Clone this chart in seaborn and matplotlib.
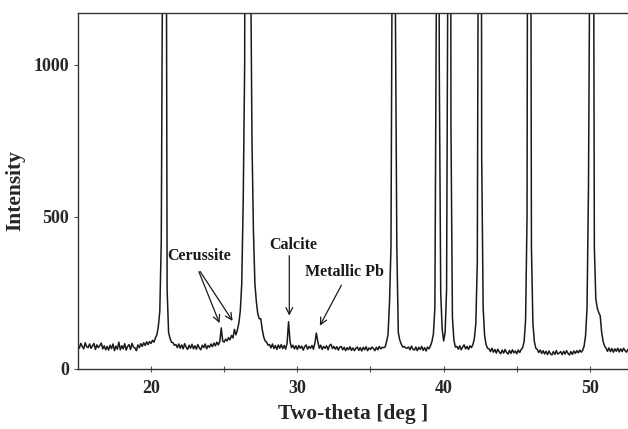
import numpy as np
import pandas as pd
import matplotlib
matplotlib.use("Agg")
import matplotlib.pyplot as plt
import seaborn as sns

# scan grid: 15.0 .. 52.6 deg, 0.1 deg step
two_theta = np.round(np.linspace(15.0, 52.6, 377), 1)

# intensity, one row per degree (x.0 .. x.9)
intensity = [
    80, 68, 84, 74, 66, 86, 73, 70, 82, 68,          # 15
    76, 84, 64, 79, 70, 77, 85, 66, 76, 63,          # 16
    74, 62, 78, 67, 82, 60, 75, 65, 88, 63,          # 17
    76, 66, 83, 62, 74, 80, 64, 84, 72, 69,          # 18
    60, 79, 70, 83, 74, 86, 77, 89, 80, 90,          # 19
    84, 94, 88, 102, 112, 140, 190, 420, 1500, 4000, # 20
    2500, 260, 120, 100, 88, 86, 78, 80, 70, 82,     # 21
    68, 79, 66, 83, 71, 64, 78, 68, 81, 66,          # 22
    76, 65, 80, 69, 63, 78, 70, 82, 66, 77,          # 23
    71, 82, 73, 85, 76, 88, 79, 90, 135, 92,         # 24
    88, 98, 92, 103, 96, 110, 102, 130, 112, 128,    # 25
    150, 190, 280, 550, 1000, 4000, 6000, 4000, 1400, 750,  # 26
    450, 280, 220, 180, 165, 165, 130, 105, 92, 88,  # 27
    78, 80, 69, 82, 67, 77, 64, 79, 68, 80,          # 28
    67, 77, 65, 85, 155, 90, 70, 78, 66, 76,         # 29
    64, 77, 68, 75, 62, 73, 79, 65, 74, 68,          # 30
    77, 65, 85, 118, 90, 68, 78, 64, 74, 68,         # 31
    76, 63, 77, 81, 67, 74, 65, 73, 62, 72,          # 32
    74, 63, 71, 60, 70, 63, 73, 61, 69, 60,          # 33
    68, 72, 61, 70, 59, 71, 63, 73, 60, 69,          # 34
    64, 72, 67, 60, 71, 63, 74, 66, 71, 70,          # 35
    72, 90, 113, 220, 400, 1600, 5000, 1200, 400, 120,  # 36
    95, 82, 72, 74, 69, 68, 72, 63, 75, 65,          # 37
    62, 72, 60, 71, 64, 74, 61, 70, 59, 72,          # 38
    66, 76, 90, 115, 200, 1200, 5000, 1000, 250, 130,   # 39
    92, 120, 260, 1500, 5000, 800, 170, 95, 72, 74,  # 40
    65, 76, 63, 72, 79, 66, 74, 64, 76, 70,          # 41
    80, 100, 150, 350, 2000, 5000, 700, 200, 110, 80,   # 42
    68, 66, 57, 68, 55, 64, 52, 65, 56, 50,          # 43
    62, 52, 64, 54, 49, 61, 51, 63, 53, 59,          # 44
    50, 62, 54, 64, 70, 90, 160, 500, 3500, 3000,    # 45
    400, 150, 90, 68, 64, 54, 62, 51, 60, 49,        # 46
    58, 47, 59, 50, 46, 57, 48, 60, 49, 52,          # 47
    57, 47, 58, 49, 60, 51, 46, 57, 48, 59,          # 48
    51, 60, 53, 62, 55, 61, 75, 110, 200, 600,       # 49
    1500, 5000, 2500, 400, 230, 200, 185, 175, 120, 90,  # 50
    75, 68, 58, 69, 57, 67, 55, 66, 58, 68,          # 51
    56, 66, 57, 68, 60, 55, 65,                      # 52.0 .. 52.6
]

# annotations: label, text position, arrow tips
labels = ["Cerussite", "Calcite", "Metallic Pb"]
text_xy = [(23.3, 372), (29.7, 408), (33.2, 320)]
arrow_start = [[(23.2, 328), (23.25, 328)], [(29.45, 381)], [(33.1, 283)]]
arrow_tips = [[(24.75, 142), (25.68, 150)], [(29.45, 166)], [(31.45, 134)]]

df = pd.DataFrame({"two_theta": two_theta, "intensity": intensity})

sns.set_style("ticks")
plt.rcParams["font.family"] = ["Liberation Serif", "DejaVu Serif"]
plt.rcParams["font.weight"] = "bold"

fig = plt.figure(figsize=(6.28, 4.29), dpi=100)
ax = fig.add_axes([0.124, 0.14, 0.876, 0.83])

sns.lineplot(data=df, x="two_theta", y="intensity", ax=ax,
             color="#1a1a1a", linewidth=1.1)

ax.set_xlim(15.0, 52.6)
ax.set_ylim(0, 1170)
ax.set_xticks([20, 30, 40, 50])
ax.set_xticks([25, 35, 45], minor=True)
ax.set_yticks([0, 500, 1000])

ax.tick_params(axis="x", which="both", direction="inout", length=4,
               width=0.8, color="#555555", labelsize=13, pad=6)
ax.tick_params(axis="y", direction="out", length=3, width=0.8,
               color="#555555", labelsize=13)
for t in ax.get_xticklabels() + ax.get_yticklabels():
    t.set_fontweight("bold")

for side in ["left", "top", "bottom"]:
    ax.spines[side].set_color("#333333")
    ax.spines[side].set_linewidth(1.0)
ax.spines["right"].set_visible(False)

ax.set_xlabel("Two-theta [deg ]", fontsize=15.5, fontweight="bold", labelpad=5)
ax.set_ylabel("Intensity", fontsize=15.5, fontweight="bold", labelpad=6)

for label, txy, starts, tips in zip(labels, text_xy, arrow_start, arrow_tips):
    ax.text(txy[0], txy[1], label, ha="center", va="center",
            fontsize=11.5, fontweight="bold", color="#1a1a1a")
    for s, tip in zip(starts, tips):
        ax.annotate("", xy=tip, xytext=s,
                    arrowprops=dict(arrowstyle="->", color="#1a1a1a",
                                    lw=0.9, mutation_scale=12))

fig.savefig("out.png", dpi=100)
